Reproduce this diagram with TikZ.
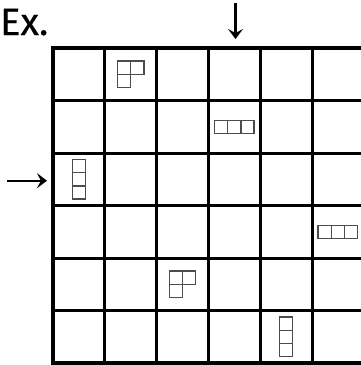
\documentclass[tikz,border=0pt]{standalone}
\usepackage{fontspec}
\setmainfont{Fira Sans}
\usetikzlibrary{arrows.meta}
% tiles of one piece, (#1,#2) = column and row of the cell
\newcommand{\tile}[2]{\draw[piece] ({#1},{#2}) rectangle ++(13.2,13.2);}
\newcommand{\lpiece}[2]{%
  \foreach \dx/\dy in {-13.2/-13.2, 0/-13.2, -13.2/0}
    {\tile{53+(#1+0.5)*51.8+\dx}{48+(#2+0.5)*52.5+\dy}}}
\newcommand{\hpiece}[2]{%
  \foreach \dx in {-19.8,-6.6,6.6}
    {\tile{53+(#1+0.5)*51.8+\dx}{48+(#2+0.5)*52.5-6.6}}}
\newcommand{\vpiece}[2]{%
  \foreach \dy in {-19.8,-6.6,6.6}
    {\tile{53+(#1+0.5)*51.8-6.6}{48+(#2+0.5)*52.5+\dy}}}

\begin{document}
\begin{tikzpicture}[
  x=1pt, y=-1pt,
  gridline/.style={line width=3pt},
  border/.style={line width=4.5pt},
  piece/.style={draw=black!70, line width=1.3pt},
  arrow/.style={-{Stealth[length=10pt, width=15pt, inset=4pt]}, line width=2.2pt},
]
\useasboundingbox (0,0) rectangle (361,365);
\node[anchor=base west, inner sep=0pt, font=\fontsize{38}{40}\selectfont\addfontfeatures{FakeBold=0.5}] (title) at (0,35) {Ex.};

% grid
\foreach \i in {1,...,5} {
  \draw[gridline] (53+\i*51.8,48) -- (53+\i*51.8,363);
  \draw[gridline] (53,48+\i*52.5) -- (364.8,48+\i*52.5);
}
\draw[border] (53,48) rectangle (364.8,363);

% pieces
\lpiece{1}{0}
\hpiece{3}{1}
\vpiece{0}{2}
\hpiece{5}{3}
\lpiece{2}{4}
\vpiece{4}{5}

% hints
\coordinate (colstart) at (235.5,3);
\coordinate (colend) at (235.5,39);
\coordinate (rowstart) at (7,180.7);
\coordinate (rowend) at (47,180.7);
\draw[arrow] (colstart) -- (colend);
\draw[arrow] (rowstart) -- (rowend);
\end{tikzpicture}
\end{document}
